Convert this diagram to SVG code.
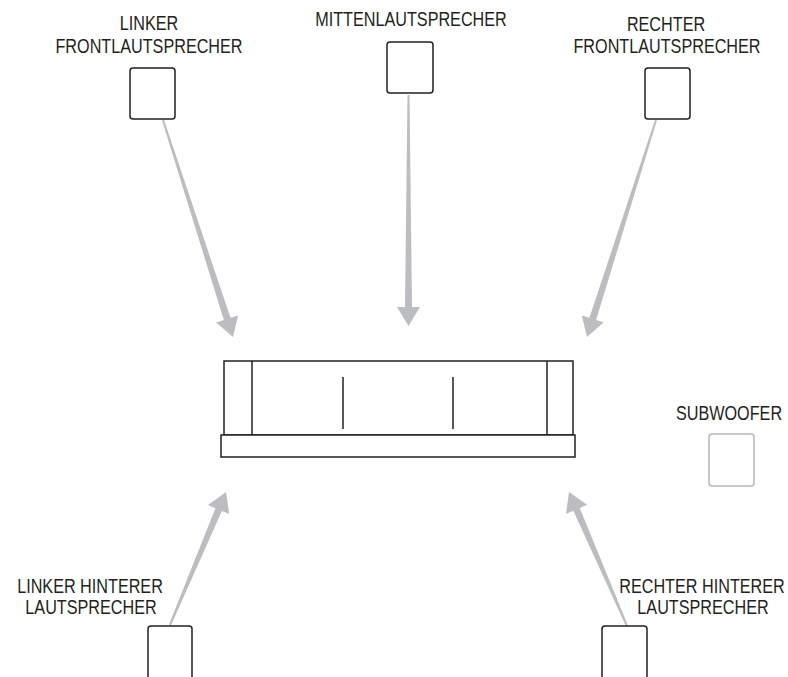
<svg xmlns="http://www.w3.org/2000/svg" width="788" height="677" viewBox="0 0 788 677">
<style>
.lbl{font-family:"Liberation Sans",Arial,sans-serif;font-size:20px;fill:#231f20;text-anchor:middle}
.spk{fill:#fff;stroke:#231f20;stroke-width:1.5}
.sub{fill:#fff;stroke:#b5b6b8;stroke-width:1.5}
.bar{fill:#fff;stroke:#231f20;stroke-width:1.5}
.ln{stroke:#231f20;stroke-width:1.5;fill:none}
.arr{fill:#bcbdc0;stroke:none}
</style>
<rect width="788" height="677" fill="#fff"/>
<g id="connectors">
<polygon class="arr" points="162.05,120.31 223.84,319.98 216.22,322.44 233,337 238.12,315.38 230.50,317.84 163.95,119.69"/>
<polygon class="arr" points="407.5,95 405,307 397,307 408.5,326 420,307 412,307 409.5,95"/>
<polygon class="arr" points="655.05,119.70 589.42,317.83 581.80,315.41 587,337 603.72,322.37 596.10,319.95 656.95,120.30"/>
<polygon class="arr" points="169.08,624.61 215.40,508.16 208.03,505.06 226,492 229.23,513.98 221.86,510.88 170.92,625.39"/>
<polygon class="arr" points="626.08,626.40 573.33,510.83 565.98,514.01 569,492 587.10,504.87 579.75,508.05 627.92,625.60"/>
</g>
<g id="front-left">
<text class="lbl" transform="translate(149,30) scale(0.81,1)">LINKER</text>
<text class="lbl" transform="translate(149,53) scale(0.81,1)">FRONTLAUTSPRECHER</text>
<rect class="spk" x="130" y="68" width="45" height="51" rx="3"/>
</g>
<g id="center">
<text class="lbl" transform="translate(411,26) scale(0.81,1)">MITTENLAUTSPRECHER</text>
<rect class="spk" x="387" y="42" width="46" height="51" rx="3"/>
</g>
<g id="front-right">
<text class="lbl" transform="translate(666,31) scale(0.81,1)">RECHTER</text>
<text class="lbl" transform="translate(667,53) scale(0.81,1)">FRONTLAUTSPRECHER</text>
<rect class="spk" x="645" y="68" width="45" height="51" rx="3"/>
</g>
<g id="soundbar">
<rect class="bar" x="224" y="361" width="349" height="74"/>
<line class="ln" x1="252" y1="361" x2="252" y2="435"/>
<line class="ln" x1="547" y1="361" x2="547" y2="435"/>
<line class="ln" x1="343" y1="377" x2="343" y2="429"/>
<line class="ln" x1="453" y1="377" x2="453" y2="429"/>
<rect class="bar" x="221" y="435" width="354" height="22"/>
</g>
<g id="subwoofer">
<text class="lbl" transform="translate(729,420) scale(0.81,1)">SUBWOOFER</text>
<rect class="sub" x="709" y="434" width="45" height="52" rx="3"/>
</g>
<g id="rear-left">
<text class="lbl" transform="translate(90,593) scale(0.81,1)">LINKER HINTERER</text>
<text class="lbl" transform="translate(91,614) scale(0.81,1)">LAUTSPRECHER</text>
<rect class="spk" x="148" y="626" width="44" height="60" rx="3"/>
</g>
<g id="rear-right">
<text class="lbl" transform="translate(702,593) scale(0.81,1)">RECHTER HINTERER</text>
<text class="lbl" transform="translate(703,614) scale(0.81,1)">LAUTSPRECHER</text>
<rect class="spk" x="602" y="626" width="45" height="60" rx="3"/>
</g>
</svg>
